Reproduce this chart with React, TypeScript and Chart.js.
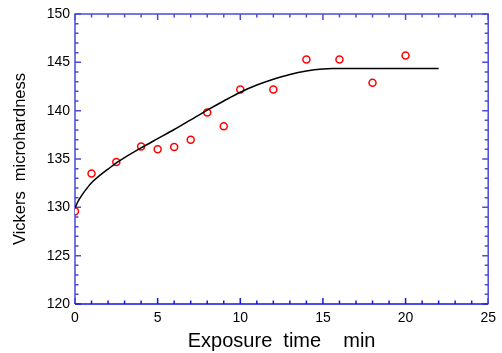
import { useEffect, useRef } from 'react';
import { Chart, registerables } from 'chart.js';
Chart.register(...registerables);

const timeMin = [0, 1, 2.5, 4, 5, 6, 7, 8, 9, 10, 12, 14, 16, 18, 20];
const hardness = [129.6, 133.5, 134.7, 136.3, 136.0, 136.25, 137.0, 139.8, 138.4, 142.2, 142.2, 145.3, 145.3, 142.9, 145.7];
const fitTime = [0, 0.15, 0.3, 0.6, 1.0, 1.5, 2.0, 2.5, 3.0, 4, 5, 6, 7, 8, 9, 10, 11, 12, 13, 14, 15, 15.6, 22];
const fitHardness = [129.9, 130.5, 130.95, 131.7, 132.55, 133.3, 133.95, 134.6, 135.15, 136.15, 137.1, 138.05, 139.05, 140.05, 141.0, 141.9, 142.65, 143.25, 143.75, 144.1, 144.3, 144.35, 144.35];
const xTicks = [0, 5, 10, 15, 20, 25];
const yTicks = [120, 125, 130, 135, 140, 145, 150];

const FONT = "'Liberation Sans', Arial, sans-serif";

const spacingPlugin = {
  id: 'spacing',
  beforeDraw(chart: any) {
    try {
      (chart.ctx as any).wordSpacing = '5.5px';
    } catch (e) {}
  },
};

const framePlugin = {
  id: 'frame',
  beforeDatasetsDraw(chart: any) {
    const { ctx, chartArea } = chart;
    const { left, right, top, bottom } = chartArea;
    const xs = chart.scales.x;
    const ys = chart.scales.y;
    const major = 6;
    const minor = 3.5;
    ctx.save();
    ctx.lineWidth = 1.5;
    const x0 = xTicks[0];
    const x1 = xTicks[xTicks.length - 1];
    for (let v = x0; v <= x1; v += 1) {
      const px = xs.getPixelForValue(v);
      const len = v % 5 === 0 ? major : minor;
      ctx.strokeStyle = '#1515e0';
      ctx.beginPath();
      ctx.moveTo(px, bottom);
      ctx.lineTo(px, bottom - len);
      ctx.stroke();
      ctx.strokeStyle = '#4b4bdc';
      ctx.beginPath();
      ctx.moveTo(px, top);
      ctx.lineTo(px, top + len);
      ctx.stroke();
    }
    const y0 = yTicks[0];
    const y1 = yTicks[yTicks.length - 1];
    ctx.strokeStyle = '#4b4bdc';
    for (let v = y0; v <= y1; v += 1) {
      const py = ys.getPixelForValue(v);
      const len = v % 5 === 0 ? major : minor;
      ctx.beginPath();
      ctx.moveTo(left, py);
      ctx.lineTo(left + len, py);
      ctx.moveTo(right, py);
      ctx.lineTo(right - len, py);
      ctx.stroke();
    }
    ctx.strokeStyle = '#4b4bdc';
    ctx.beginPath();
    ctx.moveTo(left, bottom);
    ctx.lineTo(left, top);
    ctx.lineTo(right, top);
    ctx.lineTo(right, bottom);
    ctx.stroke();
    ctx.strokeStyle = '#1515e0';
    ctx.beginPath();
    ctx.moveTo(left, bottom);
    ctx.lineTo(right, bottom);
    ctx.stroke();
    ctx.restore();
  },
};

export default function App() {
  const ref = useRef<HTMLCanvasElement>(null);
  useEffect(() => {
    if (!ref.current) return;
    const chart = new Chart(ref.current, {
      type: 'scatter',
      data: {
        datasets: [
          {
            label: 'fit',
            data: fitTime.map((t, i) => ({ x: t, y: fitHardness[i] })),
            showLine: true,
            borderColor: '#000000',
            borderWidth: 1.5,
            pointRadius: 0,
            cubicInterpolationMode: 'monotone',
            fill: false,
          },
          {
            label: 'measured',
            data: timeMin.map((t, i) => ({ x: t, y: hardness[i] })),
            showLine: false,
            pointStyle: 'circle',
            pointRadius: 3.5,
            pointBorderWidth: 1.5,
            pointBorderColor: '#ff0000',
            pointBackgroundColor: '#ffffff',
          },
        ],
      },
      options: {
        animation: false,
        responsive: false,
        layout: { padding: { left: 0, right: 12, top: 14, bottom: 0 } },
        plugins: { legend: { display: false }, tooltip: { enabled: false } },
        scales: {
          x: {
            type: 'linear',
            min: 0,
            max: 25,
            grid: { display: false, drawTicks: false },
            border: { display: false },
            afterBuildTicks: (s: any) => {
              s.ticks = xTicks.map((v) => ({ value: v }));
            },
            afterFit: (s: any) => {
              s.height = 49;
            },
            ticks: {
              padding: 6,
              color: '#000',
              font: { family: FONT, size: 14 },
              maxRotation: 0,
            },
            title: {
              display: true,
              text: 'Exposure time  min',
              color: '#000',
              font: { family: FONT, size: 20 },
              padding: { top: 2, bottom: 0 },
            },
          },
          y: {
            type: 'linear',
            min: 120,
            max: 150,
            grid: { display: false, drawTicks: false },
            border: { display: false },
            afterBuildTicks: (s: any) => {
              s.ticks = yTicks.map((v) => ({ value: v }));
            },
            afterFit: (s: any) => {
              s.width = 75;
            },
            ticks: {
              padding: 5,
              color: '#000',
              font: { family: FONT, size: 14 },
            },
            title: {
              display: true,
              text: 'Vickers microhardness',
              color: '#000',
              font: { family: FONT, size: 16.5 },
              padding: { top: 11, bottom: 0 },
            },
          },
        },
      },
      plugins: [spacingPlugin, framePlugin],
    });
    return () => chart.destroy();
  }, []);
  return (
    <div style={{ position: 'absolute', left: 0, top: 0, width: 502, height: 353, background: '#fff' }}>
      <canvas ref={ref} width={502} height={353} />
    </div>
  );
}
